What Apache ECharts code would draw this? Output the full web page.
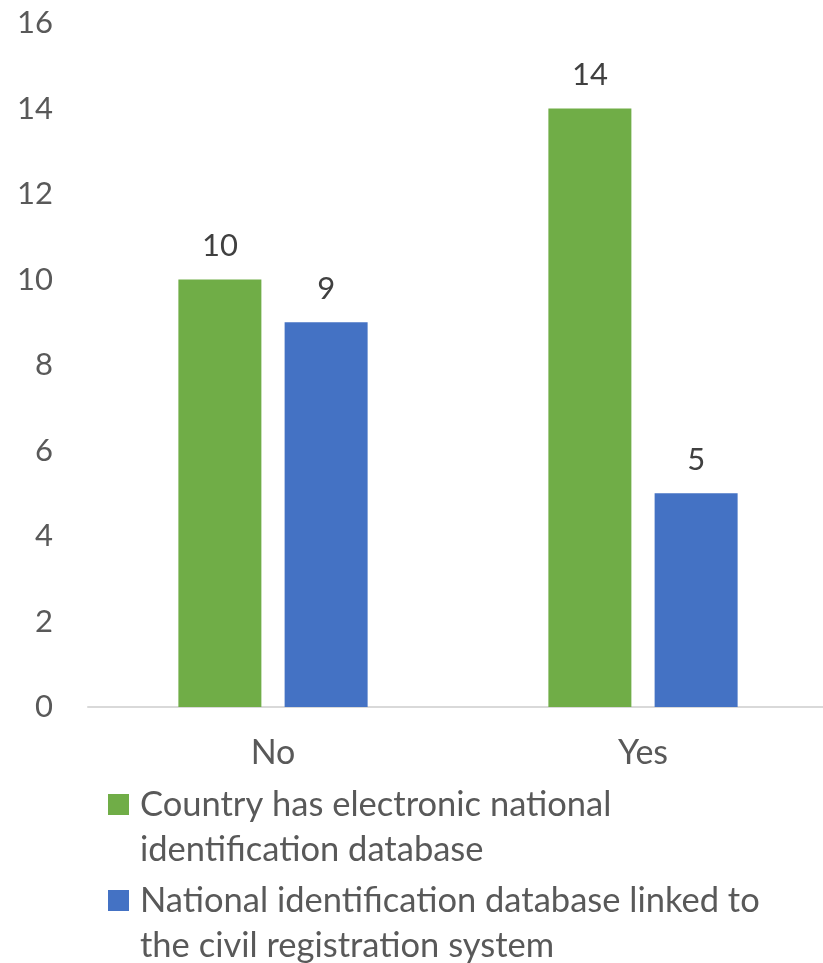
<!DOCTYPE html>
<html><head><meta charset="utf-8">
<script src="https://cdn.jsdelivr.net/npm/echarts@6/dist/echarts.min.js"></script>
<style>html,body{margin:0;padding:0;background:#fff}#c{width:823px;height:963px}</style>
</head><body><div id="c"></div>
<script>
const categories = ['No', 'Yes'];
const seriesNames = ['Country has electronic national\nidentification database', 'National identification database linked to\nthe civil registration system'];
const electronicDb = [10, 14];
const linkedDb = [9, 5];
const yTicks = [0, 2, 4, 6, 8, 10, 12, 14, 16];

const FONT = 'Lato';
const legendIcon = 'path://M0,12h21v21h-21z M27,0h0.01v0.01h-0.01z M27,90h0.01v0.01h-0.01z';
const chart = echarts.init(document.getElementById('c'));
chart.setOption({
  animation: false,
  textStyle: { fontFamily: FONT },
  grid: { left: 88, width: 740, top: 23, height: 684, outerBoundsMode: 'none', containLabel: false },
  xAxis: {
    type: 'category', data: categories,
    axisLine: { lineStyle: { color: '#D9D9D9', width: 2 } },
    axisTick: { show: false },
    axisLabel: { color: '#595959', fontSize: 34, fontFamily: FONT, margin: 29, lineHeight: 34 }
  },
  yAxis: {
    type: 'value', min: yTicks[0], max: yTicks[yTicks.length - 1], interval: 2,
    splitLine: { show: false },
    axisLine: { show: false }, axisTick: { show: false },
    axisLabel: { color: '#595959', fontSize: 31, fontFamily: FONT, margin: 35 }
  },
  legend: {
    orient: 'vertical', left: 108, top: 782, padding: 0, itemGap: 6, height: 200,
    itemWidth: 27, itemHeight: 90, icon: legendIcon,
    textStyle: { color: '#595959', fontSize: 34.5, fontFamily: FONT, lineHeight: 45 },
    data: seriesNames
  },
  series: [
    { name: seriesNames[0], type: 'bar', data: electronicDb, barWidth: 83, barGap: '28%',
      itemStyle: { color: '#70AD47' },
      label: { show: true, position: 'top', distance: 18, color: '#404040', fontSize: 31, fontFamily: FONT, lineHeight: 31 } },
    { name: seriesNames[1], type: 'bar', data: linkedDb, barWidth: 83, barGap: '28%',
      itemStyle: { color: '#4472C4' },
      label: { show: true, position: 'top', distance: 18, color: '#404040', fontSize: 31, fontFamily: FONT, lineHeight: 31 } }
  ]
});
</script></body></html>
